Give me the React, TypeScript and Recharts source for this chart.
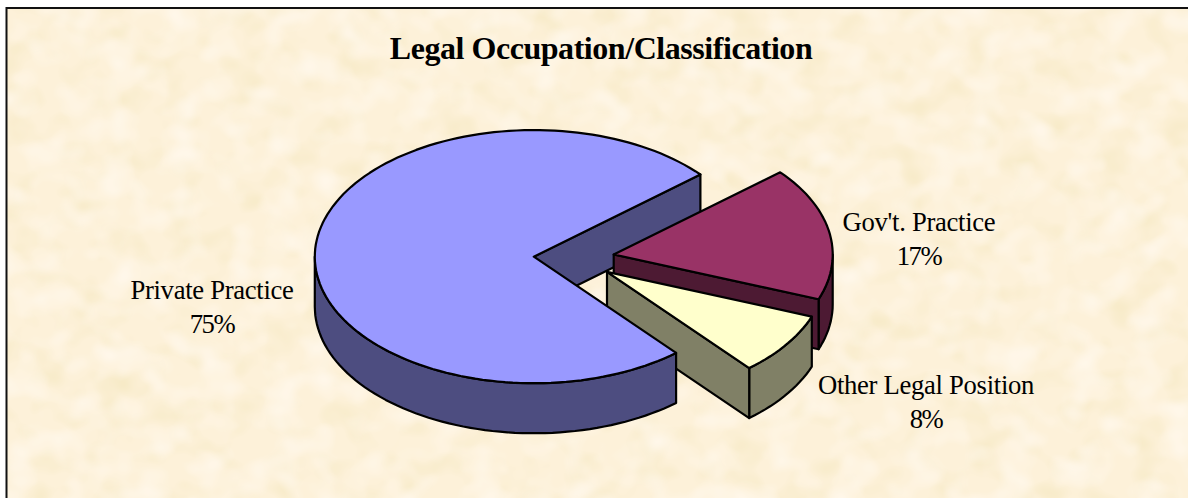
import React from 'react';
import { PieChart, Pie } from 'recharts';

const categories = ['Private Practice', "Gov't. Practice", 'Other Legal Position'];
const shares = [75, 17, 8];
const percentLabels = ['75%', '17%', '8%'];
const topColors = ['#9999FF', '#993366', '#FFFFCC'];
const sideColors = ['#4D4D80', '#4D1A33', '#808066'];

const rows = categories.map((name, i) => ({ name, value: shares[i], top: topColors[i], side: sideColors[i], pct: percentLabels[i] }));

const W = 1188;
const H = 498;
const CX = 574;
const CY = 258.5;
const RX = 219;
const SQUASH = 0.578;
const DEPTH = 50;
const EXPLODE = 0.184;
const LINE = 2.2;
const serif = '"Liberation Serif", "Times New Roman", serif';

const rad = (d: number) => (d * Math.PI) / 180;

function geom(p: any) {
  const rx = p.outerRadius;
  const ry = rx * SQUASH;
  const mid = rad(p.midAngle);
  const ox = p.cx + EXPLODE * rx * Math.cos(mid);
  const oy = p.cy - EXPLODE * ry * Math.sin(mid);
  const pt = (deg: number, drop = 0): [number, number] => [ox + rx * Math.cos(rad(deg)), oy - ry * Math.sin(rad(deg)) + drop];
  const hi = Math.max(p.startAngle, p.endAngle);
  const lo = Math.min(p.startAngle, p.endAngle);
  return { ox, oy, pt, hi, lo };
}

const toPath = (pts: [number, number][], close = true) =>
  'M' + pts.map(([x, y]) => `${x.toFixed(1)},${y.toFixed(1)}`).join('L') + (close ? 'Z' : '');

function arc(pt: (d: number, drop?: number) => [number, number], a: number, b: number, drop = 0) {
  const n = Math.max(2, Math.ceil(Math.abs(b - a) / 2));
  const out: [number, number][] = [];
  for (let i = 0; i <= n; i++) out.push(pt(a + ((b - a) * i) / n, drop));
  return out;
}

// The flat wall along a slice's leading radial edge, hanging below the top surface.
function wall(p: any) {
  const { ox, oy, pt, lo } = geom(p);
  const e = pt(lo);
  return toPath([[ox, oy], e, [e[0], e[1] + DEPTH], [ox, oy + DEPTH]]);
}

// Outer rim between two angles: only the part facing the viewer (sin < 0).
function rims(p: any) {
  const { pt, hi, lo } = geom(p);
  const out: string[] = [];
  for (let k = -1; k <= 1; k++) {
    const a = Math.max(lo, -180 + 360 * k);
    const b = Math.min(hi, 360 * k);
    if (b > a) out.push(toPath([...arc(pt, a, b), ...arc(pt, b, a, DEPTH)]));
  }
  return out;
}

function topFace(p: any) {
  const { ox, oy, pt, hi, lo } = geom(p);
  return toPath([[ox, oy], ...arc(pt, lo, hi)]);
}

const stroke = { stroke: '#000', strokeWidth: LINE, strokeLinejoin: 'round' as const };

// Lower layer: the big slice's inner wall, then the two small slices whole.
function BackLayer(p: any) {
  const d = p.payload ?? p;
  if (p.index === 0) return <path d={wall(p)} fill={d.side} {...stroke} />;
  return (
    <g>
      {rims(p).map((r, i) => <path key={i} d={r} fill={d.side} {...stroke} />)}
      <path d={wall(p)} fill={d.side} {...stroke} />
      <path d={topFace(p)} fill={d.top} {...stroke} />
    </g>
  );
}

// Upper layer: the big slice's rim and top surface lie over the other slices.
function FrontLayer(p: any) {
  const d = p.payload ?? p;
  if (p.index !== 0) return <g />;
  return (
    <g>
      {rims(p).map((r, i) => <path key={i} d={r} fill={d.side} {...stroke} />)}
      <path d={topFace(p)} fill={d.top} {...stroke} />
    </g>
  );
}

const labelAt: Record<string, [number, number]> = {
  [categories[0]]: [212, 299],
  [categories[1]]: [919, 231],
  [categories[2]]: [926, 394],
};

function SliceLabel(p: any) {
  const [x, y] = labelAt[p.name] ?? [p.x, p.y];
  return (
    <text x={x} y={y} textAnchor="middle" fontFamily={serif} fontSize={26.67} fill="#000" style={{ letterSpacing: '-0.3px' }}>
      <tspan x={x}>{p.name}</tspan>
      <tspan x={x} dy={34} style={{ letterSpacing: '-1.4px' }}>{p.pct}</tspan>
    </text>
  );
}

function Paper() {
  return (
    <svg width={W} height={H} style={{ position: 'absolute', left: 0, top: 0 }}>
      <defs>
        <filter id="paper" x="0" y="0" width="100%" height="100%" colorInterpolationFilters="sRGB">
          <feTurbulence type="fractalNoise" baseFrequency="0.03 0.035" numOctaves={2} seed={7} result="n" />
          <feColorMatrix in="n" type="matrix" values="0 0 0 0 0.96  0 0 0 0 0.91  0 0 0 0 0.76  1.8 0 0 0 -0.85" result="dark" />
          <feColorMatrix in="n" type="matrix" values="0 0 0 0 1  0 0 0 0 0.97  0 0 0 0 0.92  0 2.2 0 0 -0.95" result="light" />
          <feFlood floodColor="#FDF1D9" result="base" />
          <feMerge>
            <feMergeNode in="base" />
            <feMergeNode in="dark" />
            <feMergeNode in="light" />
          </feMerge>
        </filter>
      </defs>
      <rect x={6} y={8} width={W - 6} height={H - 8} fill="#FDF1D9" filter="url(#paper)" />
    </svg>
  );
}

export default function App() {
  return (
    <div style={{ position: 'absolute', left: 0, top: 0, width: W, height: H, background: '#fff', overflow: 'hidden' }}>
      <Paper />
      <div style={{ position: 'absolute', left: 0, top: 0 }}>
        <PieChart width={W} height={H} margin={{ top: 0, right: 0, bottom: 0, left: 0 }}>
          <path d={`M6.5,${H}V8H${W}`} fill="none" stroke="#111" strokeWidth={2} />
          <text x={601} y={59} textAnchor="middle" fontFamily={serif} fontSize={32} fontWeight="bold" fill="#000" style={{ letterSpacing: '-0.45px' }}>
            Legal Occupation/Classification
          </text>
          <Pie
            data={rows}
            dataKey="value"
            nameKey="name"
            cx={CX}
            cy={CY}
            outerRadius={RX}
            startAngle={-49.5}
            endAngle={-409.5}
            stroke="none"
            isAnimationActive={false}
            shape={BackLayer}
            label={false}
            labelLine={false}
          />
          <Pie
            data={rows}
            dataKey="value"
            nameKey="name"
            cx={CX}
            cy={CY}
            outerRadius={RX}
            startAngle={-49.5}
            endAngle={-409.5}
            stroke="none"
            isAnimationActive={false}
            shape={FrontLayer}
            label={SliceLabel}
            labelLine={false}
          />
        </PieChart>
      </div>
    </div>
  );
}
